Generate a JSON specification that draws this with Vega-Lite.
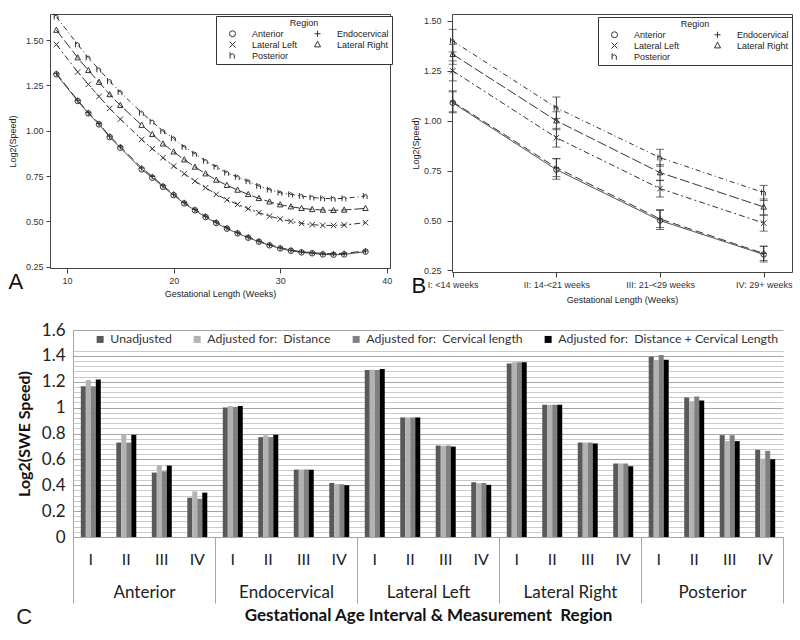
{
  "$schema": "https://vega.github.io/schema/vega-lite/v6.json",
  "padding": {"left": 7, "top": 11, "right": 0, "bottom": 0},
  "background": "white",
  "spacing": 16,
  "resolve": {"scale": {"color": "independent", "shape": "independent", "strokeDash": "independent"}, "legend": {"color": "independent", "shape": "independent", "strokeDash": "independent"}},
  "datasets": {
    "a": [
      {"wk": 9, "Anterior": 1.311, "Endocervical": 1.316, "Lateral Left": 1.476, "Lateral Right": 1.555, "Posterior": 1.629},
      {"wk": 11, "Anterior": 1.164, "Endocervical": 1.168, "Lateral Left": 1.324, "Lateral Right": 1.403, "Posterior": 1.476},
      {"wk": 12, "Anterior": 1.096, "Endocervical": 1.1, "Lateral Left": 1.256, "Lateral Right": 1.333, "Posterior": 1.403},
      {"wk": 13, "Anterior": 1.035, "Endocervical": 1.04, "Lateral Left": 1.189, "Lateral Right": 1.268, "Posterior": 1.338},
      {"wk": 14, "Anterior": 0.965, "Endocervical": 0.97, "Lateral Left": 1.123, "Lateral Right": 1.2, "Posterior": 1.274},
      {"wk": 15, "Anterior": 0.906, "Endocervical": 0.912, "Lateral Left": 1.064, "Lateral Right": 1.14, "Posterior": 1.213},
      {"wk": 17, "Anterior": 0.787, "Endocervical": 0.795, "Lateral Left": 0.952, "Lateral Right": 1.031, "Posterior": 1.099},
      {"wk": 18, "Anterior": 0.741, "Endocervical": 0.748, "Lateral Left": 0.901, "Lateral Right": 0.98, "Posterior": 1.05},
      {"wk": 19, "Anterior": 0.691, "Endocervical": 0.697, "Lateral Left": 0.851, "Lateral Right": 0.928, "Posterior": 0.998},
      {"wk": 20, "Anterior": 0.645, "Endocervical": 0.65, "Lateral Left": 0.805, "Lateral Right": 0.884, "Posterior": 0.958},
      {"wk": 21, "Anterior": 0.599, "Endocervical": 0.604, "Lateral Left": 0.763, "Lateral Right": 0.84, "Posterior": 0.91},
      {"wk": 22, "Anterior": 0.561, "Endocervical": 0.566, "Lateral Left": 0.722, "Lateral Right": 0.8, "Posterior": 0.873},
      {"wk": 23, "Anterior": 0.524, "Endocervical": 0.529, "Lateral Left": 0.686, "Lateral Right": 0.763, "Posterior": 0.833},
      {"wk": 24, "Anterior": 0.491, "Endocervical": 0.496, "Lateral Left": 0.649, "Lateral Right": 0.728, "Posterior": 0.801},
      {"wk": 25, "Anterior": 0.46, "Endocervical": 0.465, "Lateral Left": 0.619, "Lateral Right": 0.699, "Posterior": 0.768},
      {"wk": 26, "Anterior": 0.434, "Endocervical": 0.438, "Lateral Left": 0.594, "Lateral Right": 0.673, "Posterior": 0.745},
      {"wk": 27, "Anterior": 0.41, "Endocervical": 0.414, "Lateral Left": 0.57, "Lateral Right": 0.649, "Posterior": 0.721},
      {"wk": 28, "Anterior": 0.388, "Endocervical": 0.392, "Lateral Left": 0.548, "Lateral Right": 0.627, "Posterior": 0.695},
      {"wk": 29, "Anterior": 0.368, "Endocervical": 0.372, "Lateral Left": 0.529, "Lateral Right": 0.608, "Posterior": 0.675},
      {"wk": 30, "Anterior": 0.351, "Endocervical": 0.355, "Lateral Left": 0.513, "Lateral Right": 0.592, "Posterior": 0.658},
      {"wk": 31, "Anterior": 0.338, "Endocervical": 0.342, "Lateral Left": 0.5, "Lateral Right": 0.581, "Posterior": 0.649},
      {"wk": 32, "Anterior": 0.329, "Endocervical": 0.333, "Lateral Left": 0.489, "Lateral Right": 0.572, "Posterior": 0.64},
      {"wk": 33, "Anterior": 0.324, "Endocervical": 0.328, "Lateral Left": 0.482, "Lateral Right": 0.566, "Posterior": 0.632},
      {"wk": 34, "Anterior": 0.318, "Endocervical": 0.323, "Lateral Left": 0.478, "Lateral Right": 0.563, "Posterior": 0.627},
      {"wk": 35, "Anterior": 0.316, "Endocervical": 0.322, "Lateral Left": 0.478, "Lateral Right": 0.561, "Posterior": 0.625},
      {"wk": 36, "Anterior": 0.318, "Endocervical": 0.324, "Lateral Left": 0.48, "Lateral Right": 0.563, "Posterior": 0.627},
      {"wk": 38, "Anterior": 0.333, "Endocervical": 0.337, "Lateral Left": 0.493, "Lateral Right": 0.572, "Posterior": 0.64}
    ],
    "b": [
      {"iv": 1, "region": "Anterior", "v": 1.09, "lo": 1.04, "hi": 1.15},
      {"iv": 2, "region": "Anterior", "v": 0.755, "lo": 0.707, "hi": 0.81},
      {"iv": 3, "region": "Anterior", "v": 0.5, "lo": 0.455, "hi": 0.55},
      {"iv": 4, "region": "Anterior", "v": 0.33, "lo": 0.292, "hi": 0.372},
      {"iv": 1, "region": "Endocervical", "v": 1.095, "lo": 1.045, "hi": 1.145},
      {"iv": 2, "region": "Endocervical", "v": 0.765, "lo": 0.72, "hi": 0.81},
      {"iv": 3, "region": "Endocervical", "v": 0.508, "lo": 0.465, "hi": 0.555},
      {"iv": 4, "region": "Endocervical", "v": 0.335, "lo": 0.3, "hi": 0.37},
      {"iv": 1, "region": "Lateral Left", "v": 1.25, "lo": 1.2, "hi": 1.3},
      {"iv": 2, "region": "Lateral Left", "v": 0.915, "lo": 0.868, "hi": 0.962},
      {"iv": 3, "region": "Lateral Left", "v": 0.66, "lo": 0.618, "hi": 0.702},
      {"iv": 4, "region": "Lateral Left", "v": 0.487, "lo": 0.447, "hi": 0.527},
      {"iv": 1, "region": "Lateral Right", "v": 1.333, "lo": 1.283, "hi": 1.383},
      {"iv": 2, "region": "Lateral Right", "v": 1.0, "lo": 0.955, "hi": 1.045},
      {"iv": 3, "region": "Lateral Right", "v": 0.74, "lo": 0.7, "hi": 0.78},
      {"iv": 4, "region": "Lateral Right", "v": 0.568, "lo": 0.528, "hi": 0.608},
      {"iv": 1, "region": "Posterior", "v": 1.4, "lo": 1.345, "hi": 1.458},
      {"iv": 2, "region": "Posterior", "v": 1.065, "lo": 1.012, "hi": 1.119},
      {"iv": 3, "region": "Posterior", "v": 0.815, "lo": 0.772, "hi": 0.857},
      {"iv": 4, "region": "Posterior", "v": 0.64, "lo": 0.6, "hi": 0.676}
    ],
    "c": [
      {"region": "Anterior", "interval": "I", "Unadjusted": 1.166, "Adjusted for: Distance": 1.213, "Adjusted for: Cervical length": 1.166, "Adjusted for: Distance + Cervical Length": 1.218},
      {"region": "Anterior", "interval": "II", "Unadjusted": 0.73, "Adjusted for: Distance": 0.79, "Adjusted for: Cervical length": 0.73, "Adjusted for: Distance + Cervical Length": 0.79},
      {"region": "Anterior", "interval": "III", "Unadjusted": 0.498, "Adjusted for: Distance": 0.554, "Adjusted for: Cervical length": 0.508, "Adjusted for: Distance + Cervical Length": 0.552},
      {"region": "Anterior", "interval": "IV", "Unadjusted": 0.304, "Adjusted for: Distance": 0.353, "Adjusted for: Cervical length": 0.296, "Adjusted for: Distance + Cervical Length": 0.343},
      {"region": "Endocervical", "interval": "I", "Unadjusted": 1.001, "Adjusted for: Distance": 1.013, "Adjusted for: Cervical length": 1.004, "Adjusted for: Distance + Cervical Length": 1.013},
      {"region": "Endocervical", "interval": "II", "Unadjusted": 0.772, "Adjusted for: Distance": 0.786, "Adjusted for: Cervical length": 0.772, "Adjusted for: Distance + Cervical Length": 0.79},
      {"region": "Endocervical", "interval": "III", "Unadjusted": 0.521, "Adjusted for: Distance": 0.521, "Adjusted for: Cervical length": 0.521, "Adjusted for: Distance + Cervical Length": 0.52},
      {"region": "Endocervical", "interval": "IV", "Unadjusted": 0.418, "Adjusted for: Distance": 0.408, "Adjusted for: Cervical length": 0.408, "Adjusted for: Distance + Cervical Length": 0.4},
      {"region": "Lateral Left", "interval": "I", "Unadjusted": 1.29, "Adjusted for: Distance": 1.292, "Adjusted for: Cervical length": 1.29, "Adjusted for: Distance + Cervical Length": 1.298},
      {"region": "Lateral Left", "interval": "II", "Unadjusted": 0.924, "Adjusted for: Distance": 0.924, "Adjusted for: Cervical length": 0.924, "Adjusted for: Distance + Cervical Length": 0.924},
      {"region": "Lateral Left", "interval": "III", "Unadjusted": 0.707, "Adjusted for: Distance": 0.705, "Adjusted for: Cervical length": 0.707, "Adjusted for: Distance + Cervical Length": 0.699},
      {"region": "Lateral Left", "interval": "IV", "Unadjusted": 0.423, "Adjusted for: Distance": 0.415, "Adjusted for: Cervical length": 0.418, "Adjusted for: Distance + Cervical Length": 0.403},
      {"region": "Lateral Right", "interval": "I", "Unadjusted": 1.342, "Adjusted for: Distance": 1.35, "Adjusted for: Cervical length": 1.35, "Adjusted for: Distance + Cervical Length": 1.35},
      {"region": "Lateral Right", "interval": "II", "Unadjusted": 1.022, "Adjusted for: Distance": 1.022, "Adjusted for: Cervical length": 1.022, "Adjusted for: Distance + Cervical Length": 1.022},
      {"region": "Lateral Right", "interval": "III", "Unadjusted": 0.73, "Adjusted for: Distance": 0.73, "Adjusted for: Cervical length": 0.73, "Adjusted for: Distance + Cervical Length": 0.723},
      {"region": "Lateral Right", "interval": "IV", "Unadjusted": 0.568, "Adjusted for: Distance": 0.568, "Adjusted for: Cervical length": 0.568, "Adjusted for: Distance + Cervical Length": 0.547},
      {"region": "Posterior", "interval": "I", "Unadjusted": 1.394, "Adjusted for: Distance": 1.368, "Adjusted for: Cervical length": 1.406, "Adjusted for: Distance + Cervical Length": 1.37},
      {"region": "Posterior", "interval": "II", "Unadjusted": 1.079, "Adjusted for: Distance": 1.05, "Adjusted for: Cervical length": 1.086, "Adjusted for: Distance + Cervical Length": 1.055},
      {"region": "Posterior", "interval": "III", "Unadjusted": 0.787, "Adjusted for: Distance": 0.741, "Adjusted for: Cervical length": 0.787, "Adjusted for: Distance + Cervical Length": 0.741},
      {"region": "Posterior", "interval": "IV", "Unadjusted": 0.674, "Adjusted for: Distance": 0.606, "Adjusted for: Cervical length": 0.666, "Adjusted for: Distance + Cervical Length": 0.601}
    ]
  },
  "vconcat": [
    {
      "spacing": 17,
      "resolve": {"scale": {"color": "independent", "shape": "independent", "strokeDash": "independent"}, "legend": {"color": "independent", "shape": "independent", "strokeDash": "independent"}},
      "hconcat": [
        {
          "width": 340,
          "height": 254,
          "view": {"stroke": "#444", "strokeWidth": 1},
          "title": {"text": "A", "orient": "bottom", "anchor": "start", "frame": "bounds", "fontSize": 22, "fontWeight": "normal", "font": "Liberation Sans", "offset": -26, "color": "#111"},
          "data": {"name": "a"},
          "transform": [{"fold": ["Anterior", "Endocervical", "Lateral Left", "Lateral Right", "Posterior"], "as": ["region", "v"]}],
          "encoding": {
            "x": {"field": "wk", "type": "quantitative", "scale": {"domain": [8.4, 40.3], "nice": false, "zero": false},
              "axis": {"values": [10, 20, 30, 40], "title": "Gestational Length (Weeks)", "labelFontSize": 9, "titleFontSize": 9, "titleFontWeight": "normal", "tickSize": 5, "labelPadding": 3, "titlePadding": 4, "grid": false, "domain": false, "tickColor": "#444", "labelColor": "#333", "titleColor": "#222", "labelFont": "Liberation Sans", "titleFont": "Liberation Sans"}},
            "y": {"field": "v", "type": "quantitative", "scale": {"domain": [0.243, 1.644], "nice": false, "zero": false},
              "axis": {"values": [0.25, 0.5, 0.75, 1, 1.25, 1.5], "format": ".2f", "title": "Log2(Speed)", "labelFontSize": 9, "titleFontSize": 9, "titleFontWeight": "normal", "tickSize": 4, "labelPadding": 3, "titlePadding": 8, "grid": false, "domain": false, "tickColor": "#444", "labelColor": "#333", "titleColor": "#222", "labelFont": "Liberation Sans", "titleFont": "Liberation Sans"}}
          },
          "layer": [
            {"mark": {"type": "line", "color": "#333", "strokeWidth": 1},
              "encoding": {"strokeDash": {"field": "region", "type": "nominal", "scale": {"domain": ["Posterior", "Anterior", "Endocervical", "Lateral Left", "Lateral Right"], "range": [[5, 3, 1, 3], [1, 0], [8, 4], [6, 3, 2, 3], [10, 3]]}, "legend": null}}},
            {"mark": {"type": "point", "filled": false, "color": "#333", "size": 30, "strokeWidth": 1, "opacity": 1},
              "encoding": {
                "shape": {"field": "region", "type": "nominal",
                  "scale": {"domain": ["Anterior", "Lateral Left", "Posterior", "Endocervical", "Lateral Right"], "range": ["circle", "M-1,-1L1,1M1,-1L-1,1", "M-0.8,-1.1L-0.8,1M-0.8,-0.1Q-0.1,-1.1 0.6,-0.2L0.6,1.1", "M-1,0L1,0M0,-1L0,1", "M0,-1.1L1,0.8L-1,0.8Z"]},
                  "legend": {"title": "Region", "orient": "none", "legendX": 166, "legendY": 2, "columns": 2, "columnPadding": 6, "rowPadding": 0, "padding": 3, "strokeColor": "#333", "fillColor": "white", "titleAnchor": "middle", "titleFontSize": 9, "titleFontWeight": "normal", "titleFont": "Liberation Sans", "titlePadding": 1, "titleColor": "#222", "labelFontSize": 9, "labelFont": "Liberation Sans", "labelColor": "#222", "symbolSize": 36, "symbolOffset": 9, "labelOffset": 15, "symbolStrokeColor": "#333", "symbolFillColor": "transparent", "symbolStrokeWidth": 1}}}}
          ]
        },
        {
          "width": 340,
          "height": 258,
          "view": {"stroke": "#444", "strokeWidth": 1},
          "title": {"text": "B", "orient": "bottom", "anchor": "start", "frame": "bounds", "fontSize": 22, "fontWeight": "normal", "font": "Liberation Sans", "offset": -28, "color": "#111"},
          "data": {"name": "b"},
          "encoding": {
            "x": {"field": "iv", "type": "quantitative", "scale": {"domain": [0.993, 4.273], "nice": false, "zero": false},
              "axis": {"values": [1, 2, 3, 4], "labelExpr": "datum.value == 1 ? 'I: <14 weeks' : datum.value == 2 ? 'II: 14-<21 weeks' : datum.value == 3 ? 'III: 21-<29 weeks' : 'IV: 29+ weeks'", "title": "Gestational Length (Weeks)", "labelFontSize": 9, "titleFontSize": 9, "titleFontWeight": "normal", "tickSize": 5, "labelPadding": 3, "titlePadding": 6, "grid": false, "domain": false, "tickColor": "#444", "labelColor": "#333", "titleColor": "#222", "labelFont": "Liberation Sans", "titleFont": "Liberation Sans", "labelFlush": false}},
            "y": {"field": "v", "type": "quantitative", "title": "Log2(Speed)", "scale": {"domain": [0.242, 1.535], "nice": false, "zero": false},
              "axis": {"values": [0.25, 0.5, 0.75, 1, 1.25, 1.5], "format": ".2f", "labelFontSize": 9, "titleFontSize": 9, "titleFontWeight": "normal", "tickSize": 5, "labelPadding": 6, "titlePadding": 3, "grid": false, "domain": false, "tickColor": "#444", "labelColor": "#333", "titleColor": "#222", "labelFont": "Liberation Sans", "titleFont": "Liberation Sans"}}
          },
          "layer": [
            {"mark": {"type": "line", "color": "#333", "strokeWidth": 1},
              "encoding": {"strokeDash": {"field": "region", "type": "nominal", "scale": {"domain": ["Posterior", "Anterior", "Endocervical", "Lateral Left", "Lateral Right"], "range": [[5, 3, 1, 3], [1, 0], [8, 4], [6, 3, 2, 3], [10, 3]]}, "legend": null}}},
            {"mark": {"type": "rule", "color": "#333", "strokeWidth": 1},
              "encoding": {"y": {"field": "lo", "type": "quantitative", "title": "Log2(Speed)"}, "y2": {"field": "hi"}, "detail": {"field": "region"}}},
            {"mark": {"type": "tick", "orient": "horizontal", "size": 8, "thickness": 1, "color": "#333"},
              "encoding": {"y": {"field": "lo", "type": "quantitative", "title": "Log2(Speed)"}}},
            {"mark": {"type": "tick", "orient": "horizontal", "size": 8, "thickness": 1, "color": "#333"},
              "encoding": {"y": {"field": "hi", "type": "quantitative", "title": "Log2(Speed)"}}},
            {"mark": {"type": "point", "filled": false, "color": "#333", "size": 30, "strokeWidth": 1, "opacity": 1},
              "encoding": {
                "shape": {"field": "region", "type": "nominal",
                  "scale": {"domain": ["Anterior", "Lateral Left", "Posterior", "Endocervical", "Lateral Right"], "range": ["circle", "M-1,-1L1,1M1,-1L-1,1", "M-0.8,-1.1L-0.8,1M-0.8,-0.1Q-0.1,-1.1 0.6,-0.2L0.6,1.1", "M-1,0L1,0M0,-1L0,1", "M0,-1.1L1,0.8L-1,0.8Z"]},
                  "legend": {"title": "Region", "orient": "none", "legendX": 146, "legendY": 3, "columns": 2, "columnPadding": 24, "rowPadding": 0, "padding": 3, "strokeColor": "#333", "fillColor": "white", "titleAnchor": "middle", "titleFontSize": 9, "titleFontWeight": "normal", "titleFont": "Liberation Sans", "titlePadding": 1, "titleColor": "#222", "labelFontSize": 9, "labelFont": "Liberation Sans", "labelColor": "#222", "symbolSize": 36, "symbolOffset": 9, "labelOffset": 15, "symbolStrokeColor": "#333", "symbolFillColor": "transparent", "symbolStrokeWidth": 1}}}}
          ]
        }
      ]
    },
    {
      "width": 733,
      "height": 207,
      "title": {"text": "C", "orient": "bottom", "anchor": "start", "frame": "bounds", "fontSize": 22, "fontWeight": "normal", "font": "Liberation Sans", "offset": -17, "color": "#222"},
      "data": {"name": "c"},
      "transform": [
        {"fold": ["Unadjusted", "Adjusted for: Distance", "Adjusted for: Cervical length", "Adjusted for: Distance + Cervical Length"], "as": ["series", "val"]},
        {"calculate": "datum.region + '|' + datum.interval", "as": "key"}
      ],
      "layer": [
        {
          "mark": {"type": "bar"},
          "encoding": {
            "x": {"field": "key", "type": "nominal", "sort": null, "scale": {"range": [23, 733], "paddingInner": 0.437, "paddingOuter": 0.22},
              "axis": {"labelExpr": "split(datum.value, '|')[1]", "title": null, "ticks": false, "labelAngle": 0, "labelPadding": 14, "labelFontSize": 16, "labelFont": "Lato", "labelColor": "#222", "domainColor": "#a6a6a6", "grid": false}},
            "xOffset": {"field": "series", "type": "nominal", "sort": null, "scale": {"domain": ["Unadjusted", "Adjusted for: Distance", "Adjusted for: Cervical length", "Adjusted for: Distance + Cervical Length"], "paddingInner": 0, "paddingOuter": 0}},
            "y": {"field": "val", "type": "quantitative", "scale": {"domain": [0, 1.6], "nice": false},
              "axis": {"values": [0, 0.04, 0.08, 0.12, 0.16, 0.2, 0.24, 0.28, 0.32, 0.36, 0.4, 0.44, 0.48, 0.52, 0.56, 0.6, 0.64, 0.68, 0.72, 0.76, 0.8, 0.84, 0.88, 0.92, 0.96, 1, 1.04, 1.08, 1.12, 1.16, 1.2, 1.24, 1.28, 1.32, 1.36, 1.4, 1.44, 1.6],
                "tickCount": 200, "offset": -23,
                "labelExpr": "abs(datum.value * 5 - round(datum.value * 5)) < 0.001 ? format(datum.value, '.1~f') : ''",
                "labelOverlap": false, "labelFlush": false, "grid": false,
                "tickSize": -710,
                "tickColor": {"condition": {"test": "abs(datum.value * 5 - round(datum.value * 5)) < 0.001", "value": "#a6a6a6"}, "value": "#cbcbcb"},
                "domainColor": "#a6a6a6", "labelFontSize": 17, "labelFont": "Lato", "labelColor": "#222", "labelPadding": 718,
                "title": "Log2(SWE Speed)", "titleFont": "Lato", "titleFontSize": 16, "titleFontWeight": "bold", "titleColor": "#111", "titlePadding": 9}},
            "color": {"field": "series", "type": "nominal", "scale": {"domain": ["Unadjusted", "Adjusted for: Distance", "Adjusted for: Cervical length", "Adjusted for: Distance + Cervical Length"], "range": ["#595959", "#b3b3b3", "#808080", "#000000"]},
              "legend": {"orient": "none", "legendX": 44, "legendY": 3, "direction": "horizontal", "columns": 4, "title": null, "symbolType": "square", "symbolSize": 49, "symbolStrokeWidth": 0, "labelFont": "Lato", "labelFontSize": 12.3, "labelColor": "#333", "columnPadding": 19, "labelOffset": 4, "labelLimit": 400, "padding": 0, "labelExpr": "replace(datum.label, ':', ':\u00a0')"}}
          }
        },
        {
          "mark": {"type": "tick", "opacity": 0},
          "encoding": {
            "x": {"field": "region", "type": "nominal", "sort": null, "scale": {"range": [23, 733], "paddingInner": 0, "paddingOuter": 0},
              "axis": {"orient": "bottom", "tickBand": "extent", "tickSize": 66, "tickColor": "#a6a6a6", "domain": false, "labelPadding": -19, "labelFontSize": 17, "labelFont": "Lato", "labelColor": "#222", "labelAngle": 0, "grid": false,
                "title": "Gestational Age Interval & Measurement\u00a0 Region", "titleFont": "Lato", "titleFontSize": 17, "titleFontWeight": "bold", "titleColor": "#111", "titlePadding": 4}},
            "y": {"field": "val", "type": "quantitative"}
          }
        }
      ],
      "resolve": {"scale": {"x": "independent"}}
    }
  ],
  "config": {"font": "Liberation Sans", "view": {"stroke": null}}
}
